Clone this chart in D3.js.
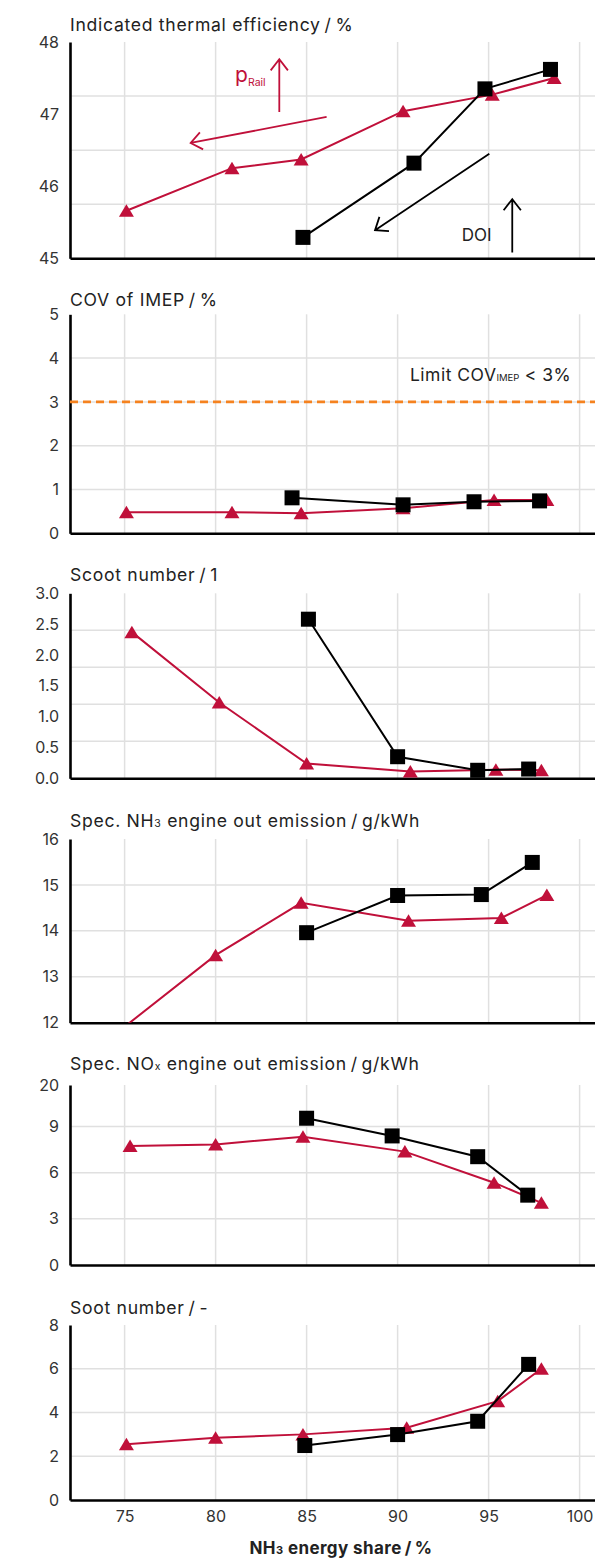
<!DOCTYPE html>
<html>
<head>
<meta charset="utf-8">
<script src="https://cdn.jsdelivr.net/npm/d3@7"></script>
<style>
  body { margin: 0; background: #fff; }
  svg { display: block; font-family: Inter, "Noto Sans", sans-serif; }
</style>
</head>
<body>
<svg id="chart" width="595" height="1560"></svg>
<script>
// x ticks (NH3 energy share, %)
var xTicks = [75, 80, 85, 90, 95, 100];

// Indicated thermal efficiency / %
var effRedX = [75.1, 80.9, 84.7, 90.3, 95.2, 98.6];
var effRedY = [45.66, 46.25, 46.37, 47.04, 47.27, 47.50];
var effBlackX = [84.8, 90.9, 94.8, 98.4];
var effBlackY = [45.29, 46.32, 47.35, 47.62];

// COV of IMEP / %
var covRedX = [75.1, 80.9, 84.7, 90.3, 95.3, 98.2];
var covRedY = [0.48, 0.48, 0.46, 0.57, 0.76, 0.76];
var covBlackX = [84.2, 90.3, 94.2, 97.8];
var covBlackY = [0.81, 0.65, 0.72, 0.74];

// Scoot number / 1
var scootRedX = [75.4, 80.2, 85.0, 90.7, 95.4, 97.9];
var scootRedY = [2.37, 1.23, 0.24, 0.11, 0.14, 0.13];
var scootBlackX = [85.1, 90.0, 94.4, 97.2];
var scootBlackY = [2.58, 0.35, 0.13, 0.15];

// Spec. NH3 engine out emission / g/kWh
var nh3RedX = [74.8, 80.0, 84.7, 90.6, 95.7, 98.2];
var nh3RedY = [11.85, 13.47, 14.61, 14.22, 14.28, 14.78];
var nh3BlackX = [85.0, 90.0, 94.6, 97.4];
var nh3BlackY = [13.96, 14.77, 14.79, 15.49];

// Spec. NOx engine out emission / g/kWh
var noxRedX = [75.3, 80.0, 84.8, 90.4, 95.3, 97.9];
var noxRedY = [7.74, 7.84, 8.34, 7.37, 5.35, 4.04];
var noxBlackX = [85.0, 89.7, 94.4, 97.15];
var noxBlackY = [9.54, 8.39, 7.04, 4.54];

// Soot number / -
var sootRedX = [75.1, 80.0, 84.8, 90.5, 95.5, 97.9];
var sootRedY = [2.55, 2.85, 3.0, 3.3, 4.52, 6.0];
var sootBlackX = [84.9, 90.0, 94.4, 97.2];
var sootBlackY = [2.49, 2.99, 3.6, 6.2];

// y tick values and labels
var effTicks = [45, 46, 47, 48];
var covTicks = [0, 1, 2, 3, 4, 5];
var scootTicks = [0, 0.5, 1, 1.5, 2, 2.5, 3];
var nh3Ticks = [12, 13, 14, 15, 16];
var noxTicks = [0, 3, 6, 9, 11.7];
var noxTickLabels = ["0", "3", "6", "9", "20"];
var sootTicks = [0, 2, 4, 6, 8];

var covLimit = 3;

var RED = "#c0103a";
var svg = d3.select("#chart");
var x = d3.scaleLinear().domain([72, 103]).range([70, 634.2]);

function zip(a, b) { return a.map(function(v, i) { return [v, b[i]]; }); }

var panels = [
  { title: [["Indicated thermal efficiency\u2009/\u2009%"]], titleY: 30.5,
    top: 42, bottom: 258.3, domain: [45, 48], grid: [45.75, 46.5, 47.25],
    ticks: effTicks, fmt: d3.format("d"),
    red: zip(effRedX, effRedY), black: zip(effBlackX, effBlackY) },
  { title: [["COV of IMEP\u2009/\u2009%"]], titleY: 306,
    top: 314.3, bottom: 533.3, domain: [0, 5], grid: [1, 2, 3, 4],
    ticks: covTicks, fmt: d3.format("d"),
    red: zip(covRedX, covRedY), black: zip(covBlackX, covBlackY) },
  { title: [["Scoot number\u2009/\u20091"]], titleY: 581,
    top: 593.3, bottom: 778.3, domain: [0, 3], grid: [0.6, 1.2, 1.8, 2.4],
    ticks: scootTicks, fmt: d3.format(".1f"),
    red: zip(scootRedX, scootRedY), black: zip(scootBlackX, scootBlackY) },
  { title: [["Spec. NH"], ["3", true], [" engine out emission\u2009/\u2009g/kWh"]], titleY: 827,
    top: 839, bottom: 1022.7, domain: [12, 16], grid: [13, 14, 15],
    ticks: nh3Ticks, fmt: d3.format("d"),
    red: zip(nh3RedX, nh3RedY), black: zip(nh3BlackX, nh3BlackY) },
  { title: [["Spec. NO"], ["x", true], [" engine out emission\u2009/\u2009g/kWh"]], titleY: 1070,
    top: 1085, bottom: 1265, domain: [0, 11.7], grid: [3, 6, 9],
    ticks: noxTicks, fmt: function(d, i) { return noxTickLabels[i]; },
    red: zip(noxRedX, noxRedY), black: zip(noxBlackX, noxBlackY) },
  { title: [["Soot number\u2009/\u2009-"]], titleY: 1314,
    top: 1325, bottom: 1500, domain: [0, 8], grid: [2, 4, 6],
    ticks: sootTicks, fmt: d3.format("d"),
    red: zip(sootRedX, sootRedY), black: zip(sootBlackX, sootBlackY), xLabels: true }
];

var defs = svg.append("defs");

function arrow(g, x1, y1, x2, y2, color) {
  // open arrow head at (x2, y2)
  var a = Math.atan2(y1 - y2, x1 - x2), len = 14, spread = 38 * Math.PI / 180;
  var d = "M" + x1 + "," + y1 + "L" + x2 + "," + y2 +
    "M" + (x2 + len * Math.cos(a + spread)) + "," + (y2 + len * Math.sin(a + spread)) +
    "L" + x2 + "," + y2 +
    "L" + (x2 + len * Math.cos(a - spread)) + "," + (y2 + len * Math.sin(a - spread));
  g.append("path").attr("d", d).attr("fill", "none").attr("stroke", color)
    .attr("stroke-width", 1.8).attr("stroke-linejoin", "miter");
}

panels.forEach(function(p, i) {
  var y = d3.scaleLinear().domain(p.domain).range([p.bottom, p.top]);
  p.y = y;
  var g = svg.append("g");

  defs.append("clipPath").attr("id", "clip" + i).append("rect")
    .attr("x", x.range()[0]).attr("y", p.top - 10)
    .attr("width", 600).attr("height", p.bottom - p.top + 10);

  // grid
  g.selectAll(".hg").data(p.grid).enter().append("line")
    .attr("x1", x.range()[0]).attr("x2", x.range()[1])
    .attr("y1", function(d) { return y(d); }).attr("y2", function(d) { return y(d); })
    .attr("stroke", "#e0e0e0").attr("stroke-width", 1.5);
  g.selectAll(".vg").data(xTicks).enter().append("line")
    .attr("x1", function(d) { return x(d); }).attr("x2", function(d) { return x(d); })
    .attr("y1", p.top).attr("y2", p.bottom)
    .attr("stroke", "#e0e0e0").attr("stroke-width", 1.5);

  // title
  var t = g.append("text").attr("x", 70).attr("y", p.titleY)
    .attr("font-size", 17.6).attr("letter-spacing", 0.7).attr("fill", "#222");
  p.title.forEach(function(part) {
    t.append("tspan").text(part[0]).attr("font-size", part[1] ? 10.5 : null);
  });

  // axes
  var yAxis = g.append("g").attr("transform", "translate(70,0)")
    .call(d3.axisLeft(y).tickValues(p.ticks).tickFormat(p.fmt).tickSize(0).tickPadding(11));
  yAxis.selectAll("text").attr("font-size", 16).attr("fill", "#333")
    .attr("font-family", "Inter, 'Noto Sans', sans-serif");
  yAxis.select(".domain").attr("stroke", "#000").attr("stroke-width", 2.6);

  var xAxis = g.append("g").attr("transform", "translate(0," + p.bottom + ")")
    .call(d3.axisBottom(x).tickValues(xTicks).tickSize(0).tickPadding(11)
      .tickFormat(p.xLabels ? d3.format("d") : ""));
  xAxis.selectAll("text").attr("font-size", 16).attr("fill", "#333")
    .attr("font-family", "Inter, 'Noto Sans', sans-serif");
  xAxis.select(".domain").attr("stroke", "#000").attr("stroke-width", 2.6);

  // series
  var line = d3.line().x(function(d) { return x(d[0]); }).y(function(d) { return y(d[1]); });
  var s = g.append("g").attr("clip-path", "url(#clip" + i + ")");
  s.append("path").datum(p.red).attr("d", line).attr("fill", "none")
    .attr("stroke", RED).attr("stroke-width", 2);
  s.selectAll(".tri").data(p.red).enter().append("path")
    .attr("d", "M0,-6.5L7.5,6L-7.5,6Z").attr("fill", RED)
    .attr("transform", function(d) { return "translate(" + x(d[0]) + "," + y(d[1]) + ")"; });
  s.append("path").datum(p.black).attr("d", line).attr("fill", "none")
    .attr("stroke", "#000").attr("stroke-width", 2);
  s.selectAll(".sq").data(p.black).enter().append("rect")
    .attr("x", function(d) { return x(d[0]) - 7.5; }).attr("y", function(d) { return y(d[1]) - 7.5; })
    .attr("width", 15).attr("height", 15).attr("fill", "#000");
});

// annotations, panel 1 (data units)
var p1 = panels[0], ye = p1.y, ga = svg.append("g");
arrow(ga, x(83.5), ye(47.03), x(83.5), ye(47.76), RED);
arrow(ga, x(86.1), ye(46.96), x(78.63), ye(46.6), RED);
arrow(ga, x(95.04), ye(46.45), x(88.76), ye(45.39), "#000");
arrow(ga, x(96.3), ye(45.08), x(96.3), ye(45.82), "#000");
var pr = ga.append("text").attr("x", x(81.07)).attr("y", ye(47.45)).attr("fill", RED);
pr.append("tspan").text("p").attr("font-size", 21);
pr.append("tspan").text("Rail").attr("font-size", 10.5).attr("dy", 4);
ga.append("text").attr("x", x(93.52)).attr("y", ye(45.24)).attr("font-size", 17)
  .attr("fill", "#222").text("DOI");

// COV limit line and label
var yc = panels[1].y;
svg.append("line").attr("x1", 70).attr("x2", 595)
  .attr("y1", yc(covLimit)).attr("y2", yc(covLimit))
  .attr("stroke", "#f5821f").attr("stroke-width", 2.6).attr("stroke-dasharray", "8,5");
var lt = svg.append("text").attr("x", x(90.68)).attr("y", yc(3.48))
  .attr("font-size", 17.5).attr("letter-spacing", 0.5).attr("fill", "#222");
lt.append("tspan").text("Limit COV");
lt.append("tspan").text("IMEP").attr("font-size", 9.5).attr("letter-spacing", 0);
lt.append("tspan").text(" < 3%");

// x axis title
var xt = svg.append("text").attr("x", 341).attr("y", 1554).attr("text-anchor", "middle")
  .attr("font-size", 17).attr("letter-spacing", 0.4).attr("font-weight", "bold").attr("fill", "#222");
xt.append("tspan").text("NH");
xt.append("tspan").text("3").attr("font-size", 11);
xt.append("tspan").text(" energy share\u2009/\u2009%");
</script>
</body>
</html>
